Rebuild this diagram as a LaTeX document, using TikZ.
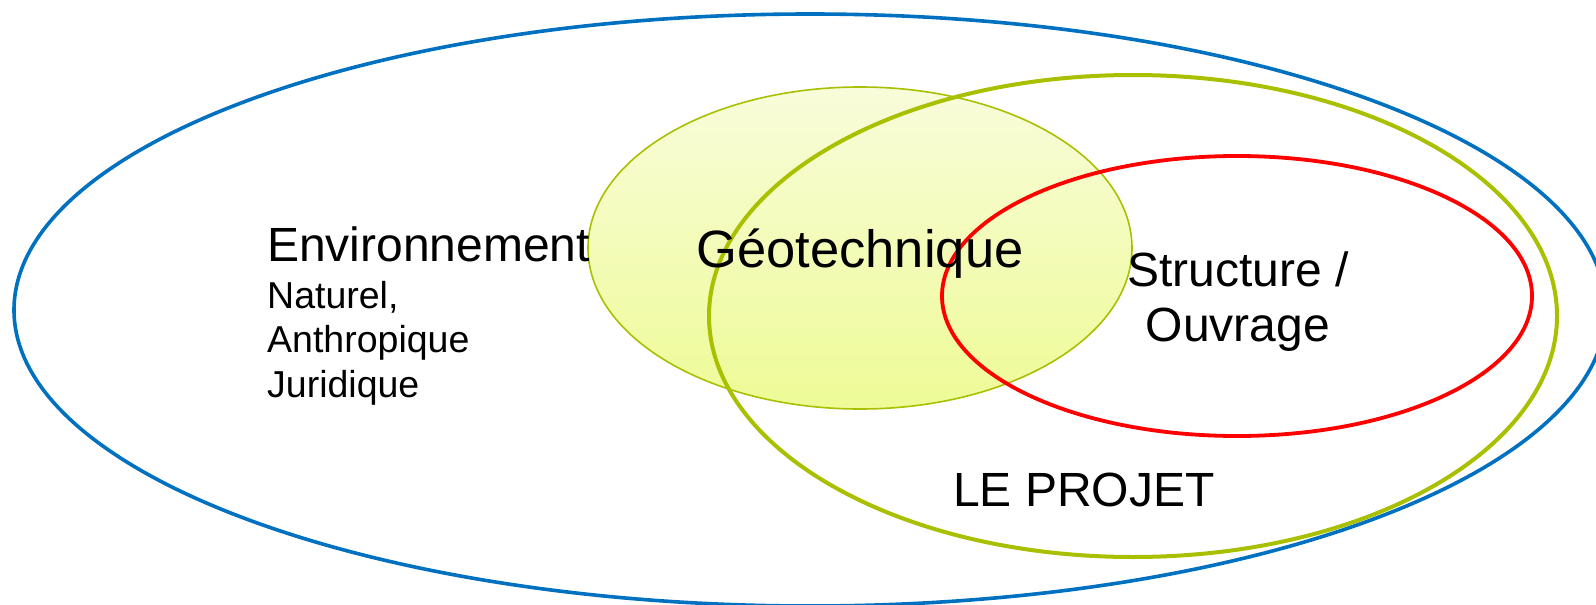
\documentclass[tikz,border=0pt]{standalone}
\usepackage{fontspec}
\setmainfont{Liberation Sans}
\definecolor{envblue}{HTML}{0070C0}
\definecolor{projgreen}{HTML}{A9C000}
\definecolor{structred}{HTML}{FF0000}
\definecolor{geotop}{HTML}{F8FCDA}
\definecolor{geobot}{HTML}{EEFB96}
\tikzset{
  bigtxt/.style={inner sep=0pt, font=\fontsize{48}{48}\selectfont},
  geotxt/.style={inner sep=0pt, font=\fontsize{52.5}{52.5}\selectfont},
  smalltxt/.style={inner sep=0pt, font=\fontsize{37.5}{37.5}\selectfont},
  envline/.style={draw=envblue, line width=3.6pt},
  projline/.style={draw=projgreen, line width=4pt},
  structline/.style={draw=structred, line width=3.8pt},
  geoline/.style={draw=projgreen, line width=1.6pt}
}
\begin{document}
\begin{tikzpicture}[x=1pt,y=-1pt]
\useasboundingbox (0,0) rectangle (1596,605);
\fill[white] (0,0) rectangle (1596,605);
% environment
\draw[envline] (810,310) ellipse [x radius=796pt, y radius=296pt];
% geotechnique filled ellipse
\shade[top color=geotop, bottom color=geobot] (860,248) ellipse [x radius=272pt, y radius=161pt];
\draw[geoline] (860,248) ellipse [x radius=272pt, y radius=161pt];
% projet
\draw[projline] (1133,316) ellipse [x radius=424pt, y radius=241pt];
% structure
\draw[structline] (1237,296) ellipse [x radius=295pt, y radius=140pt];
% texts
\node[bigtxt, anchor=base west] (env) at (267,261) {Environnement};
\node[smalltxt, anchor=base west] (nat) at (267,308) {Naturel,};
\node[smalltxt, anchor=base west] (anth) at (267,352) {Anthropique};
\node[smalltxt, anchor=base west] (jur) at (267,397) {Juridique};
\node[geotxt, anchor=base] (geo) at (860,267) {Géotechnique};
\node[bigtxt, anchor=base] (str) at (1238,286) {Structure /};
\node[bigtxt, anchor=base] (ouv) at (1238,341) {Ouvrage};
\node[bigtxt, anchor=base] (proj) at (1084,506) {LE PROJET};
\end{tikzpicture}
\end{document}
